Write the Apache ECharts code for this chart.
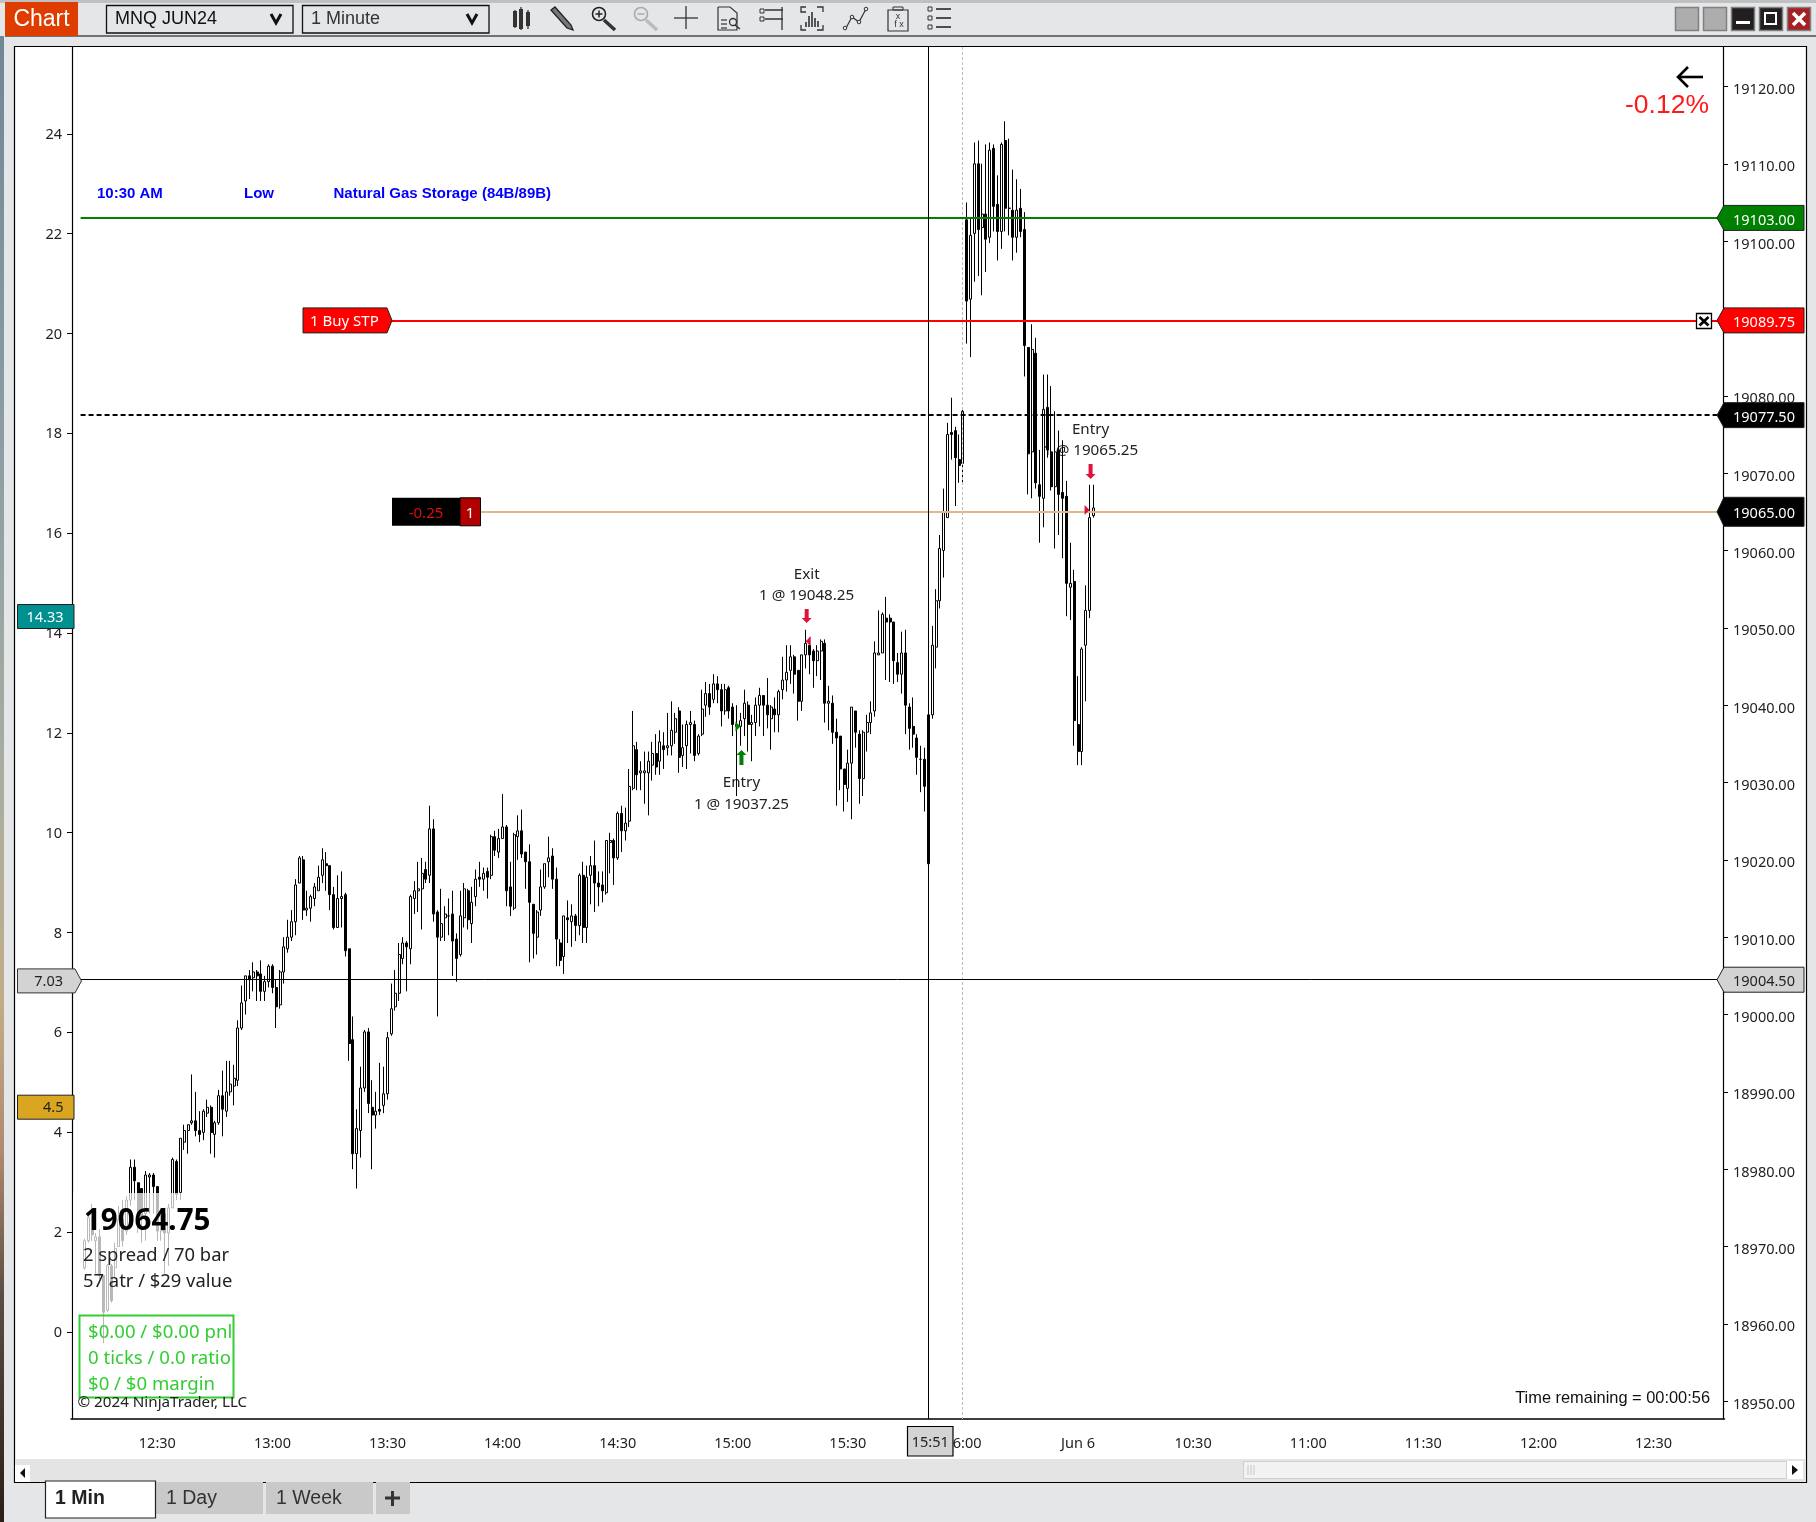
<!DOCTYPE html>
<html><head><meta charset="utf-8">
<style>html,body{margin:0;padding:0;background:#E4E6E8}#c{width:1816px;height:1522px}</style>
<script src="https://cdn.jsdelivr.net/npm/echarts@6/dist/echarts.min.js"></script>
</head><body><div id="c"></div>
<script>
const firstBar = 3;
const barCount = 431;
// one row per minute bar: open, close, low, high
const ohlc = [
[18967.25,18970.75,18967,18971],[18970.75,18973.75,18970.5,18974],[18973.75,18971.5,18970.75,18975.5],[18970.75,18971.25,18966.5,18971.75],
[18971.25,18966.25,18965.75,18972.25],[18966.25,18961.5,18957.5,18966.25],[18961.75,18967.5,18961.5,18967.75],[18967.5,18963,18962.75,18967.75],
[18967.25,18969.75,18966,18970.5],[18970,18973.5,18970,18975.25],[18973.5,18970.75,18970,18976],[18972,18976,18971.5,18976.5],
[18976,18980.25,18975.25,18981.25],[18980.25,18978.5,18976,18981.25],[18978.25,18974.25,18971.75,18978.25],[18977.5,18973.75,18970.5,18977.5],
[18974.25,18979.25,18970.75,18979.75],[18979,18979.25,18974.25,18979.5],[18979.25,18977.75,18974.25,18979.5],[18977.75,18972,18970.75,18977.75],
[18972,18974.25,18970.75,18975],[18974.25,18971.75,18966.5,18975],[18971.75,18975,18967.5,18975.5],[18975,18981.25,18975,18981.5],
[18981,18976.75,18976,18981.25],[18977,18984,18976,18984],[18983.5,18985,18982.5,18985.75],[18985,18985.75,18982,18985.75],
[18986,18986.25,18985.75,18992.25],[18986.25,18985,18984.25,18990],[18985,18984.5,18983.5,18987.5],[18984.75,18987.5,18983.75,18987.75],
[18987.25,18988,18986.75,18989],[18988,18984.75,18982,18988.25],[18984.5,18986,18981.5,18986.25],[18986,18989.5,18985.75,18990.25],
[18989.5,18987.75,18984.25,18992.75],[18987.5,18990,18986.75,18994],[18990,18991,18989.5,18994],[18990.75,18991.75,18988.25,18993.5],
[18991.5,18998.25,18990.75,18999.25],[18998.25,19001.5,18998,19003.75],[19001.75,19005,19000,19005],[19005,19004.5,19002,19005.75],
[19004.75,19005.5,19003,19006.75],[19005.5,19005,19001.75,19005.75],[19005.25,19003,19001.75,19007],[19003,19004.25,19001.75,19005],
[19004.25,19006.25,19003.5,19006.5],[19006.25,19003.5,19002.75,19006.5],[19003.5,19001,18998.25,19004.5],[19001.25,19005.5,19000.75,19005.75],
[19005.5,19008.75,19004,19010],[19008.5,19010,19008,19012.25],[19010,19012,19009.5,19013.5],[19012,19016.75,19010.25,19017.5],
[19017,19020.25,19017,19020.5],[19020,19013.5,19012.25,19020.5],[19013.5,19013.75,19012.75,19016],[19013.75,19015.25,19012,19015.5],
[19015,19016.5,19014,19017],[19016,19017.75,19016,19019.25],[19018,19020,19017,19021.5],[19019.5,19019.25,19016,19021],
[19019.25,19015.5,19013.5,19019.25],[19015.5,19011.25,19011,19016.5],[19011.25,19015,19011.25,19018],[19015,19015.25,19011.25,19018.5],
[19015.5,19008.25,19007.5,19015.75],[19008.5,18996.25,18994,19008.5],[18996.75,18982,18980,18999.75],[18982,18985.25,18977.5,18987.75],
[18985,18990.5,18981.5,18993.25],[18990.5,18997.75,18990,18998],[18997.75,18988.5,18987.25,18998.25],[18988,18987,18980,18991.5],
[18987,18987.5,18985.25,18990],[18987.75,18987.5,18987,18993.75],[18988.25,18989.75,18987.25,18993.25],[18989.75,18997,18989,18997.75],
[18997.5,19000.75,18997.25,19004],[19001,19002.75,19000.5,19005.75],[19002.75,19007.75,19001.75,19009.25],[19007.25,19009.25,19006.5,19010],
[19009.25,19008.75,19003,19009.5],[19008.5,19015.25,19006.5,19015.5],[19015,19016,19013,19017.25],[19016,19016.25,19013.25,19019.75],
[19016.25,19018.25,19011,19020.25],[19018.75,19017.5,19017,19019.75],[19018,19024,19017,19027],[19024,19013,19012,19025.25],
[19013.25,19010,18999.75,19013.5],[19010,19011.75,19009.5,19016.25],[19012.5,19013,19009.5,19014],[19012.75,19012.75,19010.25,19015],
[19013,19009.5,19005,19016],[19009.75,19007.25,19004.25,19010.5],[19007.75,19012.75,19007.5,19016],[19012.5,19016.25,19011.25,19017],
[19016,19012.25,19011,19016.25],[19011.75,19014.5,19009.25,19016.5],[19015.25,19017.5,19014,19018.75],[19017.75,19017.5,19016.5,19019.75],
[19017.5,19018.25,19016,19019],[19018.5,19017.75,19015,19019],[19018,19023,19017.5,19023.25],[19023,19021.25,19020.5,19023.75],
[19021,19022.75,19020.25,19024],[19022.75,19024.25,19022.75,19028.5],[19024.25,19016,19014,19024.5],[19016.5,19014,19012.75,19019.75],
[19013.75,19023.25,19013.5,19023.5],[19023,19023.75,19020,19025.75],[19023.75,19020.75,19020.25,19026.5],[19021,19019.75,19016.25,19021],
[19019.75,19014.5,19006.75,19022],[19014.25,19010.5,19007.25,19014.25],[19010,19013.25,19007.75,19013.5],[19013.5,19016.5,19012.75,19018.75],
[19016.5,19019.5,19016.25,19019.5],[19019.75,19020.25,19017.75,19023],[19020.5,19017.5,19016.25,19021.5],[19017.5,19009.75,19006.25,19019],
[19009.25,19007,19006.25,19009.75],[19007.5,19012.75,19005.25,19012.75],[19012.5,19012.25,19009.25,19014.75],[19012,19012.75,19008.75,19014.25],
[19012.75,19011.5,19009.5,19013],[19011.5,19018,19010.25,19018.25],[19018,19011.25,19009.25,19019.75],[19011.25,19017.75,19009.25,19019.25],
[19018,19019.25,19014.25,19020.5],[19019.25,19017,19013.25,19022.5],[19017,19016.5,19014,19018.5],[19016.75,19016,19014.5,19018.5],
[19015.75,19022.5,19015.5,19022.5],[19022.25,19022.5,19018.25,19023.5],[19022.5,19020.25,19016.75,19022.75],[19020.25,19026,19020,19026.25],
[19026,19023.75,19021,19027],[19023.75,19024.75,19022.5,19026.75],[19025,19029.5,19024.25,19031.75],[19029.25,19034.75,19029,19039.25],
[19034.25,19031,19029,19035.25],[19031.25,19031.5,19029,19032.75],[19031.25,19031.5,19027.25,19034],[19031.25,19032.75,19025.75,19034],
[19032.25,19033.75,19030.25,19035.25],[19033.75,19032,19031,19036.25],[19032.75,19035.25,19031,19036.75],[19034.75,19034.25,19031.75,19036.5],
[19034.5,19034.75,19033.5,19039],[19034.75,19036.75,19033.5,19040.5],[19036.5,19038.25,19035,19039],[19039.25,19033.25,19031.25,19039.75],
[19033.5,19034.5,19032,19037.5],[19034.75,19037.5,19031.75,19038],[19037.5,19037.75,19033.75,19039.25],[19037.5,19033.5,19032.75,19038],
[19033.75,19036,19033.5,19036.25],[19036.25,19039.5,19036,19042],[19040,19041.5,19038.5,19043],[19041.5,19039.75,19038.75,19042.75],
[19040.75,19042.75,19040.25,19044],[19042.75,19042,19040.25,19043.75],[19042,19039.25,19037.25,19042.75],[19039.25,19042,19038.75,19042.75],
[19042.25,19039.25,19038.25,19042.5],[19039.75,19037.5,19036,19040.25],[19037.25,19037.5,19028.25,19040],[19037.25,19038,19034.75,19039],
[19038.25,19040.25,19036,19042],[19040,19037.5,19034,19040.5],[19037.5,19037.75,19032.75,19038.75],[19037.75,19040,19036,19041],
[19040,19041.25,19037.25,19042.25],[19041.25,19040,19036,19041.25],[19040,19038.75,19037,19043.5],[19038.25,19039.75,19034.25,19040],
[19039.5,19038.75,19036.5,19041],[19038.75,19041.75,19036.5,19042],[19042,19043.25,19040.75,19046.25],[19043.25,19044.25,19041.75,19047.75],
[19044.5,19046.25,19042.75,19047.75],[19046.25,19044,19041.5,19046.5],[19044.5,19040.5,19038,19044.5],[19040.5,19046.5,19039.25,19046.5],
[19046.5,19048,19044.75,19049.75],[19047.75,19046.5,19044,19048.75],[19047,19045.75,19042.25,19047.25],[19045.75,19047,19043.75,19047.75],
[19047,19048.25,19043.25,19048.5],[19048,19040.25,19037.75,19048.5],[19040.25,19040.5,19036.75,19042.5],[19040.25,19036.5,19035,19041.25],
[19036.5,19035.75,19027,19038.25],[19036,19031.75,19029,19036],[19031.75,19029.75,19026.25,19031.75],[19029.25,19032.5,19027.5,19034.25],
[19032.5,19039.75,19025.25,19039.75],[19039.25,19036.5,19034.5,19039.25],[19036.25,19030.5,19027.25,19036.75],[19030.5,19036.5,19028.25,19036.75],
[19036.5,19037.75,19034,19038.75],[19037.75,19039,19036.25,19040.5],[19039.25,19046.75,19038.5,19048.25],[19046.5,19046.75,19046.5,19052.25],
[19046.75,19051.75,19046.75,19052],[19051.25,19050.75,19043.25,19054],[19051.25,19050.75,19043,19051.75],[19050.75,19045.75,19042.75,19050.75],
[19045.5,19044,19043,19046.75],[19044,19046.75,19041.5,19049.5],[19046.75,19040,19036.25,19049.75],[19039.75,19037,19034.25,19040.25],
[19037.25,19036.25,19034.5,19041],[19035.75,19033.25,19031,19036.25],[19033,19033,19028.75,19034.75],[19033,19029.5,19026.25,19034.5],
[19029.5,19019.5,19019.25,19029.5],[19038.75,19047.75,19038.25,19050.25],[19047.5,19053.5,19044.75,19055],[19053.5,19060.25,19052.5,19062],
[19060,19065,19056.5,19068],[19064.25,19075,19064.25,19076.5],[19075.25,19075,19071.75,19079.75],[19075.5,19072,19065.75,19076],
[19071.75,19071,19068.75,19075],[19071.25,19078,19068.75,19078.25],[19102.75,19092.25,19086.75,19105],[19092.5,19100.75,19085,19103],
[19101,19110,19094.75,19112.75],[19110,19101.5,19095.5,19113],[19101.75,19103.5,19093,19110],[19103.5,19100.25,19096,19112.5],
[19100.5,19111.75,19099.75,19112.75],[19112,19104.5,19101.25,19112.5],[19104.75,19101.25,19097.5,19108.5],[19101.25,19112.5,19099,19112.75],
[19113,19104.25,19101.25,19115.5],[19104.25,19104.25,19100.75,19113.25],[19104,19100.5,19097.5,19109.25],[19100.5,19104,19098.5,19108],
[19104.25,19101.25,19100.5,19106.75],[19101.5,19086.5,19082.5,19103.75],[19086.25,19072.5,19067.25,19086.25],[19072.75,19086,19066.75,19089.25],
[19085.5,19068.75,19068,19087.5],[19068.5,19067,19061,19073],[19066.75,19078.25,19063,19082.75],[19078.5,19073,19072,19082.75],
[19072.75,19068.25,19067.75,19081.25],[19068.25,19072.75,19060.25,19078],[19073,19067.25,19062,19075.5],[19067.5,19066.75,19059,19074.25],
[19067,19055.75,19051.5,19069],[19055.25,19055.75,19051,19061],[19056,19038,19034.75,19057.5],[19037.5,19034,19032.25,19043.75],
[19034,19047.25,19032.25,19047.5],[19047.75,19052.25,19040.5,19055.5],[19052.25,19064.25,19051.25,19068.5],[19064.5,19065.5,19064.25,19068.5]
];
// the reversal bar that shares a column with the 15:51 drop
const overlapBarIndex = 223;
const overlapBar = [19029.5,19038.75,19029.5,19043.75];

const priceMin = 18947.7, priceMax = 19125.1;
const priceTicks = [18950,18960,18970,18980,18990,19000,19010,19020,19030,19040,19050,19060,19070,19080,19090,19100,19110,19120];
const volMin = -1.747, volMax = 25.74;
const volTicks = [0,2,4,6,8,10,12,14,16,18,20,22,24];
const xTickBars = [22,52,82,112,142,172,202,232,262,292,322,352,382,412];
const xTickLabels = ['12:30','13:00','13:30','14:00','14:30','15:00','15:30','16:00','Jun 6','10:30','11:00','11:30','12:00','12:30'];
const greenLevel = 19103, stopLevel = 19089.75, dashLevel = 19077.5, posLevel = 19065, crossPrice = 19004.5;
const crossBar = 223, sessionBar = 232;
const leftTags = [14.33, 7.03, 4.5];

const categories = Array.from({length:barCount},(_,i)=>{const k=xTickBars.indexOf(i);return k>=0?xTickLabels[k]:'bar'+i;});
const blank = ['-','-','-','-'];
const mainData = Array(firstBar).fill(blank).concat(ohlc);
const overlapData = Array(overlapBarIndex).fill(blank).concat([overlapBar]);

const chart = echarts.init(document.getElementById('c'),null,{renderer:'canvas',width:1816,height:1522});
const UI = '"Noto Sans",sans-serif', AR = '"Liberation Sans",Arial,sans-serif';
const axisText = {color:'#222',fontFamily:UI,fontSize:14.5};
const candleStyle = {color:'#fff',color0:'#000',borderColor:'#000',borderColor0:'#000',borderColorDoji:'#000',borderWidth:1};
chart.setOption({
  animation:false,
  backgroundColor:'#E4E6E8',
  grid:{left:71,right:91.5,top:47,bottom:103},
  tooltip:{show:false},
  xAxis:{type:'category',data:categories,boundaryGap:true,
    axisLine:{onZero:false,lineStyle:{color:'#000',width:1.5}},
    axisTick:{length:5,alignWithLabel:true,customValues:xTickBars,lineStyle:{color:'#000'}},
    axisLabel:Object.assign({customValues:xTickBars,margin:17},axisText),
    splitLine:{show:false}},
  yAxis:[
    {type:'value',position:'right',offset:-1.5,min:priceMin,max:priceMax,scale:true,
      axisLine:{show:true,lineStyle:{color:'#000',width:1.2}},
      axisTick:{show:true,length:5,customValues:priceTicks,lineStyle:{color:'#000'}},
      axisLabel:Object.assign({customValues:priceTicks,margin:10,verticalAlign:'top',lineHeight:7,formatter:v=>v.toFixed(2)},axisText),
      splitLine:{show:false}},
    {type:'value',position:'left',offset:-1,min:volMin,max:volMax,
      axisLine:{show:true,onZero:false,lineStyle:{color:'#000',width:1.2}},
      axisTick:{show:true,length:5,customValues:volTicks,lineStyle:{color:'#000'}},
      axisLabel:Object.assign({customValues:volTicks,margin:10,verticalAlign:'top',lineHeight:2},axisText),
      splitLine:{show:false}}
  ],
  series:[
    {type:'candlestick',name:'MNQ JUN24',yAxisIndex:0,data:mainData,barWidth:2.5,itemStyle:candleStyle,silent:true,
     markLine:{silent:true,symbol:'none',animation:false,label:{show:false},
       data:[
        [{coord:[2,greenLevel],lineStyle:{color:'#008000',width:2,type:'solid'}},{coord:[barCount-1,greenLevel]}],
        [{coord:[83,stopLevel],lineStyle:{color:'#ff0000',width:2,type:'solid'}},{coord:[barCount-1,stopLevel]}],
        [{coord:[2,dashLevel],lineStyle:{color:'#000',width:2,type:[5,3]}},{coord:[barCount-1,dashLevel]}],
        [{coord:[106,posLevel],lineStyle:{color:'#DEB887',width:2,type:'solid'}},{coord:[barCount-1,posLevel]}]
       ]}},
    {type:'candlestick',name:'overlap',yAxisIndex:0,data:overlapData,barWidth:2.5,itemStyle:candleStyle,silent:true}
  ]
});

const py = v=>chart.convertToPixel({yAxisIndex:0},v);
const vy = v=>chart.convertToPixel({yAxisIndex:1},v);
const bx = i=>chart.convertToPixel({xAxisIndex:0},i);

const T=(x,y,text,o={})=>({type:'text',x,y,z:o.z==null?50:o.z,silent:true,style:{text,fill:o.color||'#222',font:(o.weight||'normal')+' '+(o.size||14.5)+'px '+(o.font||UI),textAlign:o.align||'left',textVerticalAlign:'middle'}});
const R=(x,y,w,h,fill,o={})=>({type:'rect',z:o.z==null?50:o.z,silent:true,shape:{x,y,width:w,height:h},style:{fill:fill,stroke:o.stroke||null,lineWidth:o.lw||1,opacity:o.op==null?1:o.op}});
const L=(x1,y1,x2,y2,c,lw=1.5,o={})=>({type:'line',z:o.z==null?50:o.z,silent:true,shape:{x1,y1,x2,y2},style:{stroke:c,lineWidth:lw,lineDash:o.dash||null}});
const PL=(pts,c,lw=1.5)=>({type:'polyline',z:50,silent:true,shape:{points:pts},style:{stroke:c,lineWidth:lw,fill:null}});
const PG=(pts,fill,stroke,z=50,lw=1)=>({type:'polygon',z,silent:true,shape:{points:pts},style:{fill,stroke:stroke||null,lineWidth:lw}});
const C=(cx,cy,r,c,lw=1.5,fill=null)=>({type:'circle',z:50,silent:true,shape:{cx,cy,r},style:{stroke:c,lineWidth:lw,fill}});

const g=[];
// window chrome
g.push(R(0,0,1816,3,'#bfc0c2',{z:-2}));
g.push({type:'rect',z:-2,silent:true,shape:{x:0,y:36,width:4,height:1486},style:{fill:new echarts.graphic.LinearGradient(0,0,0,1,[{offset:0,color:'#6f8796'},{offset:.3,color:'#8ea0a4'},{offset:.5,color:'#a8aea0'},{offset:.65,color:'#c2ac88'},{offset:.75,color:'#b08a70'},{offset:.85,color:'#5a4c42'},{offset:1,color:'#2a1e18'}])}});
g.push(R(14.5,46.5,1792,1436,'#ffffff',{z:-1,stroke:'#000',lw:1.2}));
g.push(R(15,1459,1791,23,'#E4E4E4',{z:-1}));
g.push(L(5,36,1816,36,'#000',1.2,{z:1}));
// toolbar
g.push(R(5,2,73,34,'#DF3C00'));
g.push(T(41.5,20,'Chart',{color:'#fff',size:23,font:AR,align:'center'}));
g.push(R(106.5,5.5,186.5,27.5,'#E4E6E8',{stroke:'#111',lw:1.3}));
g.push(T(115,19.5,'MNQ JUN24',{color:'#111',size:18,font:AR}));
g.push(PL([[271,14],[276,23],[281,14]],'#111',3));
g.push(R(302.5,5.5,186.5,27.5,'#E4E6E8',{stroke:'#111',lw:1.3}));
g.push(T(311,19.5,'1 Minute',{color:'#333',size:18,font:AR}));
g.push(PL([[467,14],[472,23],[477,14]],'#111',3));
const ic='#333';
// candles icon
[[515,11,25,10,28],[521,9,27,7,30],[528,12,24,10,29]].forEach(b=>{g.push(L(b[0],b[3],b[0],b[4],ic,1.3));g.push(R(b[0]-2,b[1],4,b[2]-b[1]+2,ic));});
// pencil
g.push(PG([[551,10],[555,7],[571,25],[573,30],[567,28]],'#777','#222',50,1.3));
// zoom in / out
g.push(C(599,14,6.5,'#222',1.6));g.push(L(595.5,14,602.5,14,'#222',1.5));g.push(L(599,10.5,599,17.5,'#222',1.5));g.push(L(604,20,615,30,'#333',3.5));
g.push(C(641,14,6.5,'#aaa',1.6));g.push(L(637.5,14,644.5,14,'#aaa',1.5));g.push(L(646,20,657,30,'#bbb',3.5));
// cross
g.push(L(686,6,686,29,'#333',1.3));g.push(L(674,18,698,18,'#333',1.3));
// doc search
g.push(PL([[718,7],[730,7],[737,13],[737,30],[718,30],[718,7]],ic,1.2));g.push(L(721,20,727,20,ic,1.2));g.push(L(721,24,727,24,ic,1.2));g.push(L(721,28,727,28,ic,1.2));g.push(C(733,22,3.5,ic,1.3));g.push(L(735,25,740,29,ic,1.5));
// h-lines
g.push(R(760,9,4,4,'none',{stroke:ic}));g.push(R(760,17,4,4,'none',{stroke:ic}));g.push(L(765,10,783,10,ic,1.5));g.push(L(765,19,783,19,ic,1.5));g.push(L(782,7,782,30,ic,1.3));
// bracket bars
g.push(PL([[806,12],[801,12],[801,7],[806,7]],ic,1.3));g.push(PL([[817,7],[823,7],[823,12]],ic,1.3));g.push(PL([[801,25],[801,30],[806,30]],ic,1.3));g.push(PL([[817,30],[823,30],[823,25]],ic,1.3));
[[806,22],[809,16],[812,12],[815,18],[818,21]].forEach(b=>g.push(L(b[0],27,b[0],b[1],ic,1.6)));
// nodes
g.push(PL([[846,28],[852,17],[859,22],[866,9]],ic,1.2));[[845,28],[852,17],[859,22],[866,9]].forEach(p=>g.push(C(p[0],p[1],1.8,ic,1,'#E4E6E8')));
// clipboard
g.push(R(888,10,20,21,'none',{stroke:ic,lw:1.2}));g.push(R(893,7,10,3,'none',{stroke:ic}));g.push(T(898,17,'x',{size:9,font:AR,align:'center',color:ic}));g.push(T(899,25,'f x',{size:9,font:AR,align:'center',color:ic}));
// list
[9,18,27].forEach(y=>{g.push(R(928,y-2,4,4,'none',{stroke:ic}));g.push(L(936,y,951,y,ic,1.7));});
// window buttons
[[1675,'#adadad'],[1703,'#adadad'],[1731,'#231f20'],[1759,'#231f20'],[1787,'#a32024']].forEach(b=>g.push(R(b[0]+.5,7.5,23,23,b[1],{stroke:'#808080',lw:1.5})));
g.push(R(1736,21,14,3,'#fff'));
g.push(R(1765,13,11,11,'#231f20',{stroke:'#fff',lw:2}));
g.push(L(1793,13,1805,25,'#fff',3.5));g.push(L(1805,13,1793,25,'#fff',3.5));

// crosshair + session divider, snapped to the pixel grid
const snap=v=>Math.round(v-.7)+.5;
g.push(L(snap(bx(sessionBar)),47,snap(bx(sessionBar)),1419,'#bdbdbd',1,{z:3,dash:[3,2]}));
g.push(L(snap(bx(crossBar)),47,snap(bx(crossBar)),1419,'#000',1,{z:30}));
const crossY=Math.floor(py(crossPrice))+.5;
g.push(L(72,crossY,1723,crossY,'#000',1,{z:30}));

// percent + arrow
g.push(L(1678,77,1703,77,'#000',2.6));g.push(PL([[1688,67],[1678,77],[1688,87]],'#000',2.6));
g.push(T(1709,106,'-0.12%',{color:'#ff1a1a',size:26.5,font:AR,align:'right'}));
// news line
g.push(T(97,193.5,'10:30 AM',{color:'#0000ff',size:15,font:AR,weight:'bold'}));
g.push(T(244,193.5,'Low',{color:'#0000ff',size:15,font:AR,weight:'bold'}));
g.push(T(333.5,193.5,'Natural Gas Storage (84B/89B)',{color:'#0000ff',size:15,font:AR,weight:'bold'}));

// trade texts sit behind the candles
const tradeTexts=[[174,782.5,'Entry'],[174,804.5,'1 @ 19037.25'],[191,574.5,'Exit'],[191,595.5,'1 @ 19048.25'],[265,430,'Entry'],[265,450.5,'1 @ 19065.25']];
tradeTexts.forEach(t=>g.push(T(bx(t[0])+1,t[1],t[2],{align:'center',z:1,size:15.2})));
// arrows
const arrow=(x,y1,y2,c)=>{const d=y2>y1?1:-1;g.push(PG([[x-2,y1],[x+2,y1],[x+2,y2-5*d],[x+5,y2-5*d],[x,y2],[x-5,y2-5*d],[x-2,y2-5*d]],c));};
arrow(bx(174)+1,765,750,'#008000');
arrow(bx(191)+1,609,623,'#DC143C');
arrow(bx(265)+1,464,479,'#DC143C');
// fills
const fillY1=py(19037.25);g.push(PG([[bx(174)-5,fillY1-5],[bx(174),fillY1],[bx(174)-5,fillY1+5]],'#008000'));
const fillY2=py(19048.25);g.push(PG([[bx(191)+5,fillY2-5],[bx(191),fillY2],[bx(191)+5,fillY2+5]],'#DC143C'));
const fillY3=py(19065.25);g.push(PG([[bx(265)-5,fillY3-5],[bx(265),fillY3],[bx(265)-5,fillY3+5]],'#DC143C'));

// info panel
g.push(R(73,1193,169,215,'#fff',{op:.72,z:40}));
g.push(T(84,1221.5,'19064.75',{color:'#000',size:29.5,weight:'bold'}));
g.push(T(83,1256,'2 spread / 70 bar',{color:'#222',size:18.4}));
g.push(T(83,1282,'57 atr / $29 value',{color:'#222',size:18.4}));
g.push(R(79.5,1315.5,154,82,'none',{stroke:'#32CD32',lw:2}));
g.push(T(88,1333,'$0.00 / $0.00 pnl',{color:'#32CD32',size:18.6}));
g.push(T(88,1359,'0 ticks / 0.0 ratio',{color:'#32CD32',size:18.6}));
g.push(T(88,1385,'$0 / $0 margin',{color:'#32CD32',size:18.6}));
g.push(T(77.5,1403,'© 2024 NinjaTrader, LLC',{color:'#222',size:15.2}));
g.push(T(1710,1398,'Time remaining = 00:00:56',{color:'#111',size:16.4,font:AR,align:'right'}));

// order labels
const sy=py(stopLevel);
g.push(PG([[303,sy-12.5],[387,sy-12.5],[392,sy],[387,sy+12.5],[303,sy+12.5]],'#ff0000','#222'));
g.push(T(310,sy+1.5,'1 Buy STP',{color:'#fff',size:15}));
const qy=py(posLevel);
g.push(R(392,qy-14,68,28,'#000'));g.push(R(460,qy-14,20.5,28,'#b00000',{stroke:'#000'}));
g.push(T(426,qy+1.5,'-0.25',{color:'#d81010',size:15,align:'center'}));
g.push(T(470,qy+1.5,'1',{color:'#fff',size:15,align:'center'}));
// order cancel box
g.push(R(1696.5,313.5,15,15,'#fff',{stroke:'#000',lw:1.3}));g.push(L(1699.5,317,1708.5,325.5,'#000',2.6));g.push(L(1708.5,317,1699.5,325.5,'#000',2.6));

// right price tags
const rtag=(v,label,fill,txt,h=25,stroke='#222')=>{const y=py(v);
  g.push(PG([[1717,y],[1724,y-h/2],[1804,y-h/2],[1804,y+h/2],[1724,y+h/2]],fill,stroke));
  g.push(T(1733,y+2.5,label,{color:txt,size:14.5}));};
rtag(greenLevel,'19103.00','#008000','#fff');
rtag(stopLevel,'19089.75','#ff0000','#fff');
rtag(dashLevel,'19077.50','#000','#fff');
rtag(posLevel,'19065.00','#000','#fff',29);
rtag(crossPrice,'19004.50','#d3d3d3','#222');

// left value tags
const ltag=(v,fill,txt)=>{const y=vy(v);g.push(R(17.5,y-12,56.5,24,fill,{stroke:'#222'}));g.push(T(63.5,y+1,String(v),{color:txt,size:14.5,align:'right'}));};
ltag(leftTags[0],'#009090','#fff');
ltag(leftTags[2],'#DAA520','#222');
const cy=vy(leftTags[1]);
g.push(PG([[17.5,cy-12],[75,cy-12],[81.5,cy],[75,cy+12],[17.5,cy+12]],'#d3d3d3','#333'));
g.push(T(63,cy+1,String(leftTags[1]),{color:'#222',size:14.5,align:'right'}));

// crosshair time tag
g.push(R(907.5,1426.5,45.5,29.5,'#d3d3d3',{stroke:'#000',lw:1.2}));
g.push(T(930.3,1443,'15:51',{color:'#222',size:14.5,align:'center'}));

// scrollbar
g.push(R(15,1465,15,17,'#fff'));g.push(PG([[20,1473],[25,1468],[25,1478]],'#111'));
g.push(R(1243.5,1461.5,543,17,'#f2f2f2',{stroke:'#cfcfcf'}));
[1248,1251,1254].forEach(x=>g.push(L(x,1465,x,1475,'#c8c8c8',1)));
g.push(R(1787,1461,16,18,'#fff'));g.push(PG([[1792,1465],[1798,1470],[1792,1475]],'#111'));

// tabs
g.push(R(156,1482,107,32,'#c9c9c9'));g.push(R(266,1482,107,32,'#c9c9c9'));g.push(R(376,1482,34,32,'#c9c9c9'));
g.push(R(45.5,1481,110,37,'#fff',{stroke:'#222',lw:1.2}));
g.push(T(55,1499,'1 Min',{color:'#222',size:19.5,font:AR,weight:'bold'}));
g.push(T(166,1499,'1 Day',{color:'#333',size:19.5,font:AR}));
g.push(T(276,1499,'1 Week',{color:'#333',size:19.5,font:AR}));
g.push(L(385,1498,400,1498,'#333',3));g.push(L(392.5,1491,392.5,1506,'#333',3));

chart.setOption({graphic:{elements:g}});
</script></body></html>
